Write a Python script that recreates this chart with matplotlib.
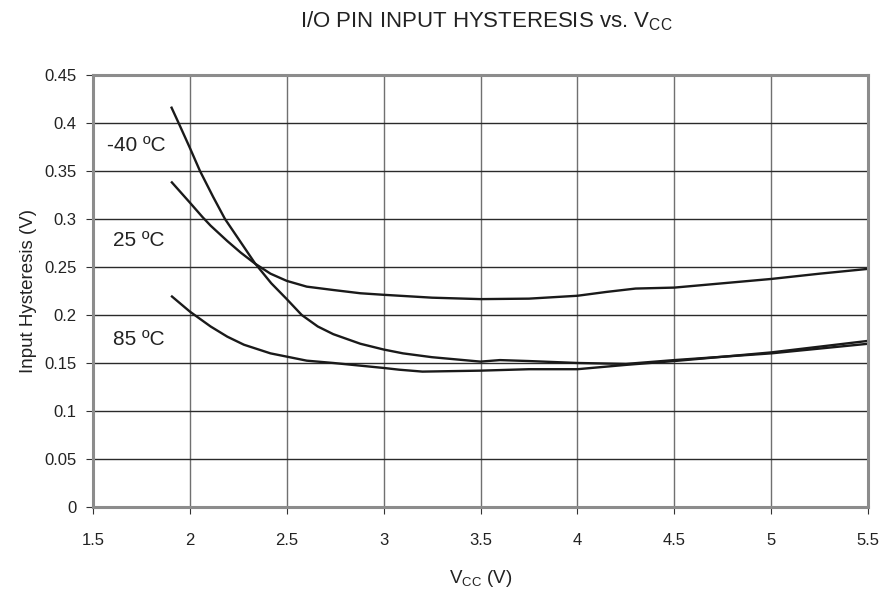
import matplotlib
matplotlib.use("Agg")
import matplotlib.pyplot as plt

plt.rcParams['font.family'] = ['Liberation Sans', 'DejaVu Sans']

# Data
v_m40 = [1.903, 1.944, 2.00, 2.052, 2.12, 2.181, 2.265, 2.336, 2.42, 2.50, 2.577, 2.66, 2.74, 2.88, 3.00,
         3.10, 3.25, 3.50, 3.60, 3.75, 4.00, 4.25, 4.50, 4.75, 5.00, 5.25, 5.50]
h_m40 = [0.417, 0.399, 0.374, 0.350, 0.323, 0.300, 0.275, 0.2538, 0.233, 0.2165, 0.200, 0.188, 0.180, 0.170, 0.164,
         0.160, 0.156, 0.1514, 0.153, 0.152, 0.150, 0.149, 0.153, 0.1565, 0.160, 0.165, 0.170]

v_25 = [1.903, 2.00, 2.065, 2.107, 2.193, 2.262, 2.336, 2.416, 2.50, 2.603, 2.74, 2.88, 3.00, 3.25, 3.50,
        3.75, 4.00, 4.15, 4.30, 4.50, 4.75, 5.00, 5.25, 5.50]
h_25 = [0.339, 0.317, 0.302, 0.293, 0.277, 0.265, 0.2535, 0.243, 0.2355, 0.2295, 0.226, 0.2226, 0.221, 0.218, 0.2165,
        0.217, 0.220, 0.224, 0.2275, 0.2285, 0.233, 0.2375, 0.243, 0.248]

v_85 = [1.903, 2.00, 2.107, 2.193, 2.279, 2.416, 2.50, 2.603, 2.74, 2.88, 3.00, 3.08, 3.20, 3.50, 3.75,
        4.00, 4.25, 4.50, 4.75, 5.00, 5.25, 5.50]
h_85 = [0.220, 0.2035, 0.188, 0.1774, 0.169, 0.160, 0.1566, 0.1524, 0.150, 0.1472, 0.1448, 0.1430, 0.1410, 0.142, 0.1435,
        0.1435, 0.148, 0.152, 0.1565, 0.161, 0.167, 0.173]

series = [("-40 ºC", v_m40, h_m40), ("25 ºC", v_25, h_25), ("85 ºC", v_85, h_85)]
label_pos = {"-40 ºC": (1.571, 0.377), "25 ºC": (1.605, 0.278), "85 ºC": (1.605, 0.174)}

xticks = [1.5, 2, 2.5, 3, 3.5, 4, 4.5, 5, 5.5]
xticklabels = ["1.5", "2", "2.5", "3", "3.5", "4", "4.5", "5", "5.5"]
yticks = [0, 0.05, 0.1, 0.15, 0.2, 0.25, 0.3, 0.35, 0.4, 0.45]
yticklabels = ["0", "0.05", "0.1", "0.15", "0.2", "0.25", "0.3", "0.35", "0.4", "0.45"]

fig = plt.figure(figsize=(8.84, 5.90), dpi=100)
ax = fig.add_axes([0.1052, 0.1407, 0.8768, 0.7323])

for name, x, y in series:
    ax.plot(x, y, color='#1a1a1a', lw=1.7, solid_joinstyle='round', solid_capstyle='butt')
    tx, ty = label_pos[name]
    ax.text(tx, ty, name, fontsize=15, color='#222222', va='center', ha='left')

ax.set_xlim(1.5, 5.5)
ax.set_ylim(0, 0.45)
ax.set_xticks(xticks)
ax.set_xticklabels(xticklabels)
ax.set_yticks(yticks)
ax.set_yticklabels(yticklabels)
ax.xaxis.grid(True, color='#707070', lw=1.0)
ax.yaxis.grid(True, color='#2a2a2a', lw=1.0)
ax.set_axisbelow(True)
for s in ax.spines.values():
    s.set_color('#8c8c8c')
    s.set_linewidth(2.2)
ax.tick_params(axis='both', direction='out', length=5, width=0.8, color='#333333',
               labelsize=12, labelcolor='#222222')
ax.tick_params(axis='y', pad=7)
ax.tick_params(axis='x', pad=14)

ax.set_xlabel(r"V$_{\mathregular{CC}}$ (V)", fontsize=13.5, color='#222222', labelpad=14)
ax.set_ylabel("Input Hysteresis (V)", fontsize=13.5, color='#222222', labelpad=5)
fig.text(0.55, 0.964, r"I/O PIN INPUT HYSTERESIS vs. V$_{\mathregular{CC}}$", fontsize=16,
         color='#222222', ha='center', va='center')

fig.savefig("out.png", dpi=100)
